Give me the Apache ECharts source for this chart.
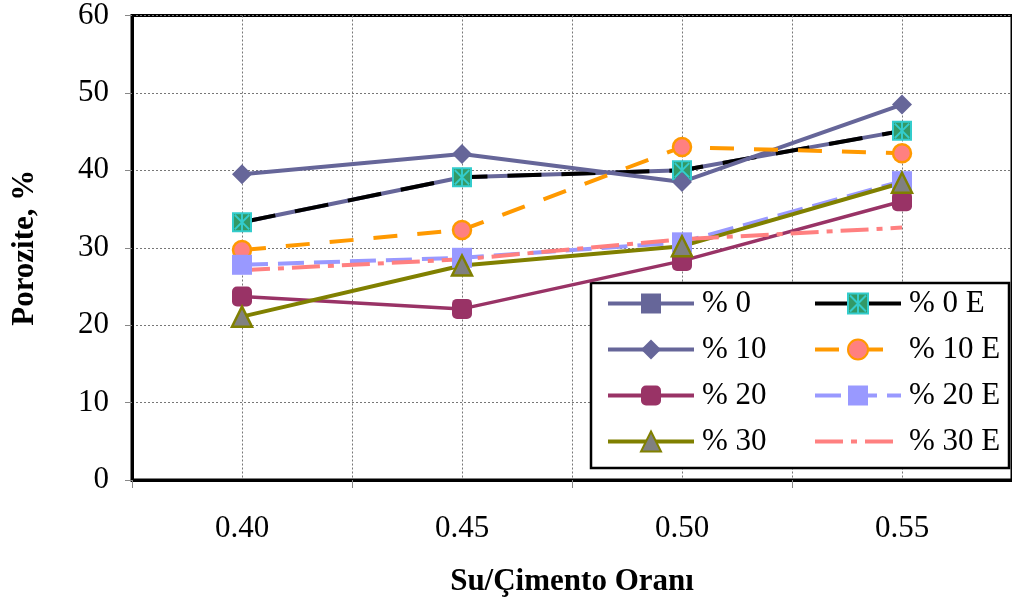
<!DOCTYPE html>
<html>
<head>
<meta charset="utf-8">
<script src="https://cdn.jsdelivr.net/npm/echarts@6/dist/echarts.min.js"></script>
<style>html,body{margin:0;padding:0;background:#fff;}#c{width:1012px;height:607px;}</style>
</head>
<body>
<div id="c"></div>
<script>
const categories = ['0.40', '0.45', '0.50', '0.55'];
const s0  = [33.3, 39.1, 40.0, 45.1];
const s0E = [33.3, 39.1, 40.0, 45.1];
const s10 = [39.5, 42.1, 38.5, 48.5];
const s10E = [29.7, 32.3, 43.0, 42.2];
const s20 = [23.7, 22.1, 28.3, 36.0];
const s20E = [27.8, 28.7, 30.7, 38.6];
const s30 = [21.1, 27.7, 30.2, 38.4];
const s30E = [27.1, 28.5, 31.1, 32.6];
const yTicks = [0, 10, 20, 30, 40, 50, 60];

const FONT = '"Liberation Serif", "Times New Roman", serif';
const chart = echarts.init(document.getElementById('c'));
const starPath = 'path://M0 0H10V10H0Z M1 1L9 9 M9 1L1 9 M5 0V10';

const legendCommon = {
  orient: 'vertical', top: 288, padding: 0, itemWidth: 86, itemHeight: 25, itemGap: 15,
  lineStyle: { width: 4 },
  textStyle: { fontFamily: FONT, fontSize: 31, color: '#000', padding: [0, 0, 0, 3] }
};

chart.setOption({
  animation: false,
  backgroundColor: '#fff',
  grid: { left: 132, top: 14, width: 884, height: 466, show: true, borderColor: '#000', borderWidth: 3, backgroundColor: 'transparent' },
  xAxis: [{
    type: 'category', data: categories, boundaryGap: true,
    axisLine: { show: true, onZero: false, lineStyle: { color: '#000', width: 3 } },
    axisTick: { show: true, length: 8, lineStyle: { color: '#888', width: 1 } },
    axisLabel: { fontFamily: FONT, fontSize: 31, color: '#000', margin: 33 },
    splitLine: { show: false },
    name: 'Su/Çimento Oranı', nameLocation: 'middle', nameGap: 86,
    nameTextStyle: { fontFamily: FONT, fontSize: 31, fontWeight: 'bold', color: '#000' }
  }, {
    type: 'value', min: -0.5, max: 3.5, interval: 0.5, position: 'bottom',
    axisLine: { show: false }, axisTick: { show: false }, axisLabel: { show: false },
    splitLine: { show: true, lineStyle: { color: '#777', width: 1, type: [2, 2] } }
  }],
  yAxis: {
    type: 'value', min: yTicks[0], max: yTicks[yTicks.length - 1], interval: 10,
    axisLine: { show: true, onZero: false, lineStyle: { color: '#000', width: 3 } },
    axisTick: { show: true, length: 7, lineStyle: { color: '#888', width: 1 } },
    axisLabel: { fontFamily: FONT, fontSize: 31, color: '#000', margin: 23 },
    splitLine: { show: true, lineStyle: { color: '#777', width: 1, type: [2, 2] } },
    name: 'Porozite, %', nameLocation: 'middle', nameGap: 92, nameRotate: 90,
    nameTextStyle: { fontFamily: FONT, fontSize: 31, fontWeight: 'bold', color: '#000' }
  },
  legend: [
    Object.assign({}, legendCommon, { left: 606, data: ['% 0', '% 10', '% 20', '% 30'] }),
    Object.assign({}, legendCommon, { left: 813, data: ['% 0 E', '% 10 E', '% 20 E',
      { name: '% 30 E', itemStyle: { opacity: 0 } }] })
  ],
  graphic: [{
    type: 'rect', z: 3, shape: { x: 591, y: 283, width: 418, height: 185 },
    style: { fill: '#fff', stroke: '#000', lineWidth: 2.5 }
  }],
  series: [
    { name: '% 0', type: 'line', data: s0, symbol: 'rect', symbolSize: 15,
      itemStyle: { color: '#666699' }, lineStyle: { color: '#666699', width: 4 } },
    { name: '% 0 E', type: 'line', data: s0E, symbol: starPath, symbolSize: 18,
      itemStyle: { color: '#339966', borderColor: '#33CCCC', borderWidth: 2 },
      lineStyle: { color: '#000', width: 4, type: [34, 20] } },
    { name: '% 10', type: 'line', data: s10, symbol: 'diamond', symbolSize: 20,
      itemStyle: { color: '#666699' }, lineStyle: { color: '#666699', width: 4 } },
    { name: '% 10 E', type: 'line', data: s10E, symbol: 'circle', symbolSize: 18,
      itemStyle: { color: '#FF8080', borderColor: '#FF9900', borderWidth: 2.5 },
      lineStyle: { color: '#FF9900', width: 4, type: [24, 20] } },
    { name: '% 20', type: 'line', data: s20, symbol: 'roundRect', symbolSize: 20,
      itemStyle: { color: '#993366' }, lineStyle: { color: '#993366', width: 3.5 } },
    { name: '% 20 E', type: 'line', data: s20E, symbol: 'rect', symbolSize: 20,
      itemStyle: { color: '#9999FF' }, lineStyle: { color: '#9999FF', width: 4, type: [26, 10] } },
    { name: '% 30', type: 'line', data: s30, symbol: 'triangle', symbolSize: 20,
      itemStyle: { color: '#808080', borderColor: '#808000', borderWidth: 2.5 },
      lineStyle: { color: '#808000', width: 4 } },
    { name: '% 30 E', type: 'line', data: s30E, symbol: 'none',
      itemStyle: { color: '#FF8080' },
      lineStyle: { color: '#FF8080', width: 4, type: [28, 8, 6, 8] } }
  ]
});
</script>
</body>
</html>
